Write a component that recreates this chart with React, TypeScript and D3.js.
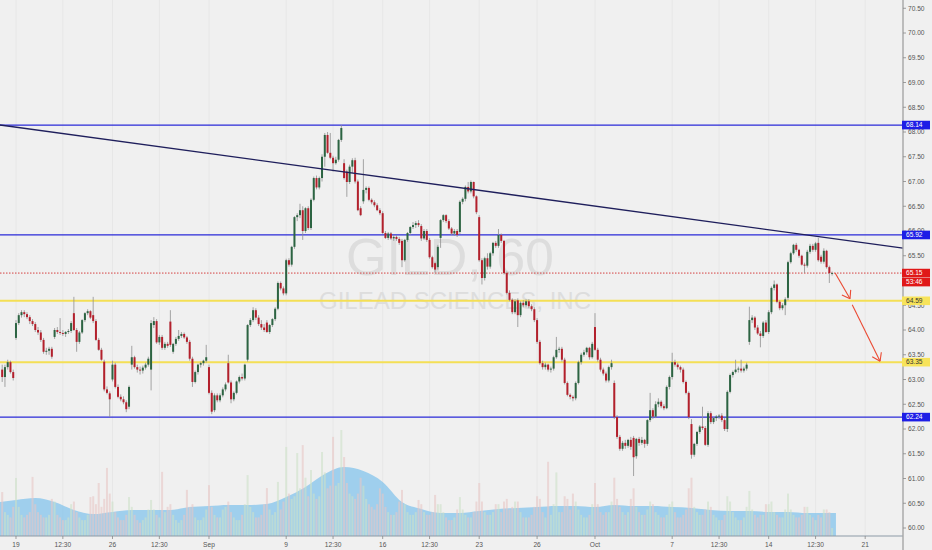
import React from 'react';
import * as d3 from 'd3';

// ---------- DATA ----------
// Hourly candles [open, high, low, close] — Aug 16 (5 bars), Aug 19 – Aug 30 (7 bars/day)
const ohlcAug: number[][] = [
  [63.2, 63.3, 62.95, 63.05], [63.05, 63.3, 62.85, 63.25], [63.25, 63.4, 63.2, 63.35], [63.35, 63.38, 63.12, 63.15], [63.15, 63.2, 62.98, 63.03],
  // Aug 19
  [63.84, 64.2, 63.8, 64.14], [64.14, 64.34, 64.1, 64.3], [64.3, 64.4, 64.25, 64.36], [64.36, 64.4, 64.26, 64.32], [64.32, 64.36, 64.22, 64.26], [64.26, 64.3, 64.12, 64.18], [64.18, 64.22, 64.08, 64.12],
  // Aug 20
  [64.12, 64.16, 63.96, 64.0], [64.0, 64.06, 63.9, 63.95], [63.95, 64.0, 63.76, 63.8], [63.8, 63.84, 63.52, 63.56], [63.56, 63.64, 63.5, 63.58], [63.58, 63.66, 63.5, 63.62], [63.62, 63.66, 63.42, 63.46],
  // Aug 21
  [63.86, 64.04, 63.82, 64.0], [64.0, 64.06, 63.92, 63.96], [63.96, 64.24, 63.9, 63.94], [63.94, 64.0, 63.88, 63.92], [63.92, 63.98, 63.86, 63.96], [63.96, 64.02, 63.92, 63.98], [63.98, 64.18, 63.94, 64.14],
  // Aug 22
  [64.34, 64.67, 63.98, 64.0], [64.0, 64.04, 63.56, 63.76], [63.76, 63.98, 63.72, 63.95], [63.95, 64.22, 63.92, 64.2], [64.2, 64.36, 64.16, 64.34], [64.34, 64.42, 64.3, 64.38], [64.38, 64.4, 64.22, 64.25],
  // Aug 23
  [64.3, 64.67, 64.14, 64.18], [64.18, 64.22, 63.78, 63.8], [63.8, 63.84, 63.58, 63.6], [63.6, 63.64, 63.38, 63.4], [63.36, 63.4, 62.76, 62.8], [62.8, 62.86, 62.7, 62.73], [62.72, 62.76, 62.24, 62.6],
  // Aug 26
  [63.0, 63.38, 62.96, 63.3], [63.3, 63.34, 62.82, 62.85], [62.85, 62.9, 62.62, 62.65], [62.65, 62.7, 62.56, 62.6], [62.6, 62.66, 62.5, 62.54], [62.54, 62.58, 62.34, 62.4], [62.45, 62.88, 62.4, 62.85],
  // Aug 27
  [63.3, 63.68, 63.2, 63.45], [63.45, 63.48, 63.22, 63.25], [63.25, 63.3, 63.14, 63.2], [63.2, 63.26, 63.1, 63.18], [63.18, 63.28, 63.12, 63.24], [63.24, 63.34, 63.2, 63.3], [63.3, 63.46, 63.26, 63.42],
  // Aug 28
  [63.2, 64.2, 62.78, 64.14], [64.1, 64.26, 64.04, 64.18], [64.18, 64.22, 63.72, 63.75], [63.75, 63.9, 63.7, 63.86], [63.86, 63.9, 63.6, 63.64], [63.64, 63.76, 63.6, 63.72], [63.72, 63.76, 63.64, 63.68],
  // Aug 29
  [64.17, 64.4, 63.66, 63.7], [63.56, 63.74, 63.52, 63.72], [63.72, 63.86, 63.68, 63.82], [63.82, 64.0, 63.78, 63.88], [63.88, 63.96, 63.84, 63.92], [63.92, 63.95, 63.82, 63.85], [63.85, 63.88, 63.72, 63.76],
  // Aug 30
  [63.76, 63.8, 63.38, 63.42], [63.42, 63.46, 62.85, 62.95], [62.95, 63.18, 62.92, 63.15], [63.15, 63.32, 63.1, 63.3], [63.3, 63.36, 63.24, 63.33], [63.33, 63.4, 63.28, 63.38], [63.38, 63.7, 63.34, 63.45],
];

// Sep 3 – Sep 30
const ohlcSep: number[][] = [
  // Sep 3
  [63.25, 63.3, 62.7, 62.73], [62.73, 62.78, 62.3, 62.35], [62.38, 62.72, 62.34, 62.68], [62.68, 62.72, 62.54, 62.58], [62.58, 62.72, 62.54, 62.68], [62.68, 62.84, 62.64, 62.8], [62.8, 62.94, 62.76, 62.9],
  // Sep 4
  [63.33, 63.5, 62.92, 62.94], [62.94, 62.98, 62.52, 62.6], [62.6, 62.76, 62.56, 62.73], [62.73, 62.98, 62.7, 62.96], [62.96, 63.08, 62.92, 63.05], [63.05, 63.12, 62.98, 63.02], [63.02, 63.32, 62.98, 63.3],
  // Sep 5
  [63.4, 64.12, 63.36, 64.1], [64.1, 64.24, 64.06, 64.2], [64.2, 64.46, 64.16, 64.4], [64.4, 64.44, 64.2, 64.25], [64.25, 64.3, 64.08, 64.12], [64.12, 64.2, 64.0, 64.05], [64.05, 64.12, 63.96, 64.0],
  // Sep 6
  [64.15, 64.2, 63.94, 63.96], [63.96, 64.12, 63.92, 64.1], [64.1, 64.24, 64.06, 64.22], [64.22, 64.46, 64.18, 64.43], [64.43, 64.98, 64.4, 64.95], [64.95, 64.98, 64.8, 64.84], [64.84, 64.88, 64.7, 64.74],
  // Sep 9
  [64.74, 65.44, 64.7, 65.41], [65.41, 65.45, 65.28, 65.32], [65.32, 65.7, 65.28, 65.68], [65.68, 66.3, 65.64, 66.28], [66.28, 66.36, 66.2, 66.32], [66.32, 66.55, 66.26, 66.42], [66.42, 66.5, 65.82, 66.0],
  // Sep 10
  [66.0, 66.48, 65.96, 66.46], [66.46, 66.5, 66.02, 66.06], [66.06, 66.66, 66.02, 66.63], [66.63, 67.1, 66.6, 67.07], [67.07, 67.12, 66.84, 66.88], [66.88, 67.1, 66.84, 67.07], [67.07, 67.55, 67.0, 67.5],
  // Sep 11
  [67.5, 67.98, 67.3, 67.94], [67.94, 68.0, 67.56, 67.58], [67.58, 67.98, 67.45, 67.48], [67.48, 67.52, 67.2, 67.37], [67.37, 67.5, 67.34, 67.44], [67.44, 67.86, 67.4, 67.84], [67.84, 68.14, 67.8, 68.08],
  // Sep 12
  [67.37, 67.45, 67.04, 67.07], [67.2, 67.24, 66.69, 66.99], [66.99, 67.34, 66.95, 67.3], [67.3, 67.47, 67.17, 67.43], [67.43, 67.48, 66.96, 67.0], [67.0, 67.04, 66.4, 66.42], [66.46, 66.5, 66.3, 66.32],
  // Sep 13
  [66.6, 67.45, 66.55, 66.83], [66.83, 66.9, 66.76, 66.87], [66.87, 66.9, 66.6, 66.63], [66.63, 66.66, 66.54, 66.58], [66.58, 66.62, 66.48, 66.52], [66.52, 66.56, 66.4, 66.42], [66.42, 66.46, 66.32, 66.36],
  // Sep 16
  [66.36, 66.4, 65.94, 65.96], [65.96, 66.0, 65.84, 65.86], [65.86, 65.98, 65.82, 65.95], [65.95, 65.98, 65.82, 65.85], [65.85, 65.92, 65.8, 65.88], [65.88, 65.92, 65.8, 65.84], [65.84, 65.88, 65.72, 65.76],
  // Sep 17
  [65.8, 65.84, 65.27, 65.41], [65.41, 65.84, 65.38, 65.82], [65.82, 65.98, 65.78, 65.96], [65.96, 66.1, 65.92, 66.08], [66.08, 66.18, 66.04, 66.12], [66.12, 66.2, 66.06, 66.16], [66.16, 66.22, 66.08, 66.12],
  // Sep 18
  [66.1, 66.14, 65.8, 65.85], [65.85, 66.04, 65.82, 66.0], [66.0, 66.04, 65.78, 65.82], [65.82, 65.86, 65.44, 65.47], [65.47, 65.5, 65.24, 65.27], [65.35, 65.38, 65.16, 65.22], [65.27, 65.72, 65.22, 65.68],
  // Sep 19
  [65.86, 66.24, 65.66, 66.22], [66.22, 66.34, 66.18, 66.32], [66.32, 66.34, 66.16, 66.2], [66.2, 66.24, 66.02, 66.05], [66.05, 66.08, 65.92, 65.95], [65.95, 66.04, 65.9, 66.0], [66.0, 66.04, 65.88, 65.92],
  // Sep 20
  [65.98, 66.62, 65.94, 66.59], [66.59, 66.68, 66.54, 66.65], [66.65, 66.92, 66.6, 66.89], [66.89, 66.99, 66.76, 66.8], [66.8, 67.02, 66.76, 66.99], [66.99, 67.0, 66.66, 66.7], [66.7, 66.72, 66.34, 66.38],
  // Sep 23
  [66.28, 66.32, 65.38, 65.41], [65.41, 65.45, 64.92, 65.05], [65.05, 65.48, 65.0, 65.45], [65.45, 65.55, 65.22, 65.28], [65.28, 65.58, 65.24, 65.55], [65.55, 65.78, 65.5, 65.76], [65.76, 65.8, 65.66, 65.7],
  // Sep 24
  [65.7, 66.04, 65.66, 65.92], [65.92, 65.95, 65.76, 65.8], [65.8, 65.82, 65.12, 65.15], [65.15, 65.18, 64.72, 64.75], [64.75, 64.8, 64.58, 64.61], [64.61, 64.64, 64.32, 64.36], [64.36, 64.62, 64.32, 64.58],
  // Sep 25
  [64.6, 64.64, 64.06, 64.3], [64.3, 64.58, 64.26, 64.55], [64.55, 64.6, 64.46, 64.5], [64.5, 64.62, 64.46, 64.58], [64.58, 64.62, 64.44, 64.48], [64.48, 64.52, 64.38, 64.42], [64.42, 64.46, 64.16, 64.2],
  // Sep 26
  [64.2, 64.24, 63.72, 63.76], [63.76, 63.8, 63.3, 63.33], [63.33, 63.38, 63.2, 63.25], [63.25, 63.34, 63.2, 63.3], [63.3, 63.32, 63.16, 63.2], [63.2, 63.26, 63.14, 63.22], [63.22, 63.48, 63.18, 63.45],
  // Sep 27
  [63.45, 63.86, 63.42, 63.6], [63.6, 63.66, 63.54, 63.62], [63.62, 63.66, 63.36, 63.4], [63.4, 63.44, 62.9, 62.93], [62.93, 62.96, 62.66, 62.69], [62.69, 62.72, 62.6, 62.65], [62.65, 62.68, 62.56, 62.62],
  // Sep 30
  [62.62, 62.96, 62.58, 62.93], [62.93, 63.38, 62.9, 63.35], [63.35, 63.54, 63.3, 63.5], [63.5, 63.6, 63.46, 63.55], [63.55, 63.66, 63.5, 63.64], [63.64, 63.66, 63.4, 63.45], [63.45, 63.76, 63.42, 63.72],
];

// Oct 1 – Oct 17 (last day partial)
const ohlcOct: number[][] = [
  // Oct 1
  [64.06, 64.34, 63.58, 63.6], [63.6, 63.64, 63.36, 63.4], [63.4, 63.44, 63.16, 63.2], [63.2, 63.24, 63.08, 63.12], [63.12, 63.16, 62.94, 62.98], [62.98, 63.28, 62.94, 63.25], [63.25, 63.4, 63.2, 63.33],
  // Oct 2
  [62.93, 62.98, 62.2, 62.24], [62.24, 62.28, 61.8, 61.84], [61.84, 61.88, 61.56, 61.6], [61.6, 61.76, 61.56, 61.72], [61.72, 61.78, 61.6, 61.66], [61.66, 61.8, 61.62, 61.78], [61.78, 61.84, 61.58, 61.64],
  // Oct 3
  [61.82, 61.86, 61.05, 61.43], [61.45, 61.82, 61.4, 61.8], [61.8, 61.84, 61.66, 61.72], [61.72, 61.84, 61.68, 61.78], [61.78, 61.8, 61.62, 61.7], [61.7, 62.2, 61.66, 62.18], [62.18, 62.73, 62.14, 62.38],
  // Oct 4
  [62.38, 62.42, 62.2, 62.25], [62.25, 62.56, 62.22, 62.5], [62.5, 62.62, 62.44, 62.55], [62.55, 62.58, 62.42, 62.46], [62.46, 62.5, 62.38, 62.42], [62.42, 62.88, 62.4, 62.85], [62.85, 63.08, 62.8, 63.05],
  // Oct 7
  [63.05, 63.54, 63.0, 63.35], [63.35, 63.4, 63.26, 63.3], [63.3, 63.34, 63.2, 63.25], [63.25, 63.28, 63.14, 63.2], [63.2, 63.24, 62.92, 62.95], [62.95, 62.98, 62.7, 62.73], [62.73, 62.76, 62.2, 62.24],
  // Oct 8
  [62.1, 62.2, 61.4, 61.48], [61.48, 61.72, 61.44, 61.7], [61.7, 61.96, 61.66, 61.94], [61.94, 62.08, 61.9, 62.05], [62.05, 62.45, 61.98, 62.02], [62.02, 62.06, 61.66, 61.68], [61.68, 62.36, 61.64, 62.32],
  // Oct 9
  [62.32, 62.36, 62.1, 62.14], [62.14, 62.24, 62.1, 62.22], [62.22, 62.28, 62.16, 62.25], [62.25, 62.3, 62.2, 62.27], [62.27, 62.32, 62.14, 62.18], [62.18, 62.22, 61.96, 62.0], [62.0, 62.78, 61.94, 62.75],
  // Oct 10
  [62.75, 63.12, 62.72, 63.09], [63.09, 63.18, 63.04, 63.15], [63.15, 63.4, 63.12, 63.2], [63.2, 63.26, 63.14, 63.22], [63.22, 63.4, 63.14, 63.18], [63.18, 63.26, 63.14, 63.22], [63.22, 63.34, 63.18, 63.3],
  // Oct 11
  [63.76, 64.47, 63.7, 64.2], [64.2, 64.3, 64.14, 64.25], [64.25, 64.28, 64.0, 64.05], [64.05, 64.1, 63.9, 63.93], [63.93, 63.98, 63.65, 63.88], [63.88, 64.18, 63.84, 64.15], [64.15, 64.2, 63.94, 63.96],
  // Oct 14
  [63.96, 64.4, 63.92, 64.36], [64.36, 64.88, 64.32, 64.85], [64.85, 65.0, 64.8, 64.92], [64.92, 64.94, 64.54, 64.57], [64.57, 64.6, 64.4, 64.44], [64.44, 64.54, 64.4, 64.5], [64.5, 64.66, 64.3, 64.62],
  // Oct 15
  [64.65, 65.4, 64.6, 65.37], [65.37, 65.58, 65.34, 65.55], [65.55, 65.74, 65.52, 65.72], [65.72, 65.76, 65.58, 65.62], [65.62, 65.64, 65.46, 65.5], [65.5, 65.52, 65.3, 65.32], [65.32, 65.36, 65.15, 65.3],
  // Oct 16
  [65.3, 65.62, 65.26, 65.58], [65.58, 65.74, 65.54, 65.7], [65.7, 65.74, 65.58, 65.62], [65.62, 65.78, 65.58, 65.75], [65.76, 65.86, 65.38, 65.41], [65.48, 65.52, 65.34, 65.38], [65.38, 65.65, 65.34, 65.6],
  // Oct 17
  [65.6, 65.62, 65.24, 65.27], [65.27, 65.3, 64.95, 65.15], [65.15, 65.18, 65.1, 65.15],
];

// Hourly volume (millions of shares)
const volumeAug: number[] = [
  1.66, 0.9, 0.8, 0.7, 1.1,
  2.19, 1.1, 0.8, 0.7, 0.8, 0.9, 2.23,
  1.2, 0.9, 0.8, 0.7, 0.7, 0.8, 1.4,
  1.3, 0.8, 0.7, 0.6, 0.6, 0.7, 1.2,
  1.3, 0.9, 0.7, 0.6, 0.6, 0.8, 1.47,
  1.5, 1.2, 2.0, 1.1, 1.4, 2.57, 1.6,
  1.3, 0.9, 0.7, 0.6, 0.6, 0.8, 1.47,
  1.1, 0.8, 0.6, 0.5, 0.6, 0.7, 1.0,
  1.36, 1.0, 0.8, 0.7, 2.42, 0.9, 1.1,
  1.2, 0.8, 0.6, 0.5, 0.6, 0.8, 1.74,
  1.1, 1.2, 0.7, 0.6, 0.6, 0.7, 1.0,
];
const volumeSep: number[] = [
  1.92, 1.1, 0.8, 0.7, 0.7, 1.0, 1.1,
  1.3, 0.9, 0.7, 0.6, 0.6, 0.8, 1.2,
  2.3, 1.1, 0.9, 0.7, 0.7, 0.8, 1.2,
  1.81, 1.0, 0.8, 0.9, 2.04, 1.0, 1.3,
  3.36, 1.6, 1.4, 1.5, 3.13, 1.8, 3.43,
  2.2, 1.5, 2.49, 1.6, 1.4, 1.5, 3.17,
  2.4, 1.8, 1.9, 3.74, 1.9, 2.0, 4.0,
  2.98, 2.0, 1.6, 1.5, 1.4, 1.6, 2.2,
  1.9, 1.4, 1.2, 1.1, 1.0, 1.2, 1.8,
  1.6, 1.1, 0.9, 0.8, 0.8, 0.9, 1.3,
  1.74, 1.2, 0.9, 0.8, 0.8, 0.9, 1.36,
  1.2, 0.9, 0.8, 0.8, 0.9, 1.55, 1.2,
  1.2, 0.9, 0.7, 0.6, 0.6, 0.7, 1.0,
  1.47, 1.0, 0.8, 0.7, 0.7, 0.9, 1.3,
  2.0, 1.3, 0.9, 0.8, 0.8, 0.9, 1.2,
  1.2, 0.9, 1.3, 1.4, 1.0, 1.1, 1.3,
  1.3, 0.9, 0.7, 0.7, 0.7, 0.8, 1.1,
  1.5, 1.4, 0.9, 0.7, 2.8, 0.8, 1.2,
  2.4, 0.9, 0.9, 1.5, 1.4, 1.0, 1.6,
  1.3, 1.0, 0.8, 0.7, 0.7, 0.8, 1.2,
];
const volumeOct: number[] = [
  2.0, 1.2, 0.9, 0.8, 0.9, 0.9, 1.3,
  2.2, 1.4, 1.1, 0.9, 0.8, 0.9, 1.4,
  1.8, 1.1, 0.9, 0.8, 0.8, 1.0, 1.3,
  1.2, 0.9, 0.8, 0.7, 0.7, 0.8, 1.2,
  1.3, 0.9, 0.7, 0.7, 0.8, 1.0, 1.8,
  2.2, 1.1, 0.9, 0.8, 0.8, 1.0, 1.3,
  1.1, 0.8, 0.7, 0.6, 0.6, 0.8, 1.5,
  1.3, 0.9, 0.7, 0.6, 0.6, 0.7, 1.1,
  1.7, 1.0, 0.8, 0.7, 0.8, 0.8, 1.2,
  1.2, 1.3, 0.9, 0.8, 0.7, 0.7, 1.0,
  1.6, 1.0, 0.8, 0.7, 0.7, 0.8, 1.1,
  1.1, 0.8, 0.7, 0.6, 0.8, 0.7, 1.0,
  1.0, 0.9, 0.3,
];

// Volume moving average (millions), Aug 16 then each session start Aug 19 .. Oct 17
const volumeMA: number[] = [
  1.28, 1.36, 1.43, 1.28, 0.98, 0.83, 0.91, 0.98, 0.98, 0.98, 1.09,
  1.13, 1.17, 1.17, 1.21, 1.47, 1.85, 2.34, 2.6, 2.45, 2.04,
  1.28, 1.02, 0.87, 0.87, 0.94, 1.02, 1.06, 1.09, 1.13, 1.13,
  1.09, 1.17, 1.13, 1.13, 1.09, 1.06, 0.98, 0.94, 0.94, 0.91,
  0.91, 0.87, 0.87,
];

// X-axis ticks (bar slot index, label)
const xTickSlots = [5, 22, 40, 57, 75, 103, 120, 138, 155, 173, 194, 215, 243, 260, 278, 295, 313];
const xTickLabels = ['19', '12:30', '26', '12:30', 'Sep', '9', '12:30', '16', '12:30', '23', '26', 'Oct', '7', '12:30', '14', '12:30', '21'];

// Horizontal levels
const blueLevels = [68.14, 65.92, 62.24];
const yellowLevels = [64.59, 63.35];
const lastPrice = 65.15;
const countdown = '53:46';

// Trend line anchors (slot, price)
const trendSlots = [0, 301];
const trendPrices = [68.135, 65.85];

// Projection arrows
const arrowFromSlots = [302.1, 308.3];
const arrowFromPrices = [65.15, 64.51];
const arrowToSlots = [307.5, 318.4];
const arrowToPrices = [64.63, 63.37];

const symbolText = 'GILD, 60';
const companyText = 'GILEAD SCIENCES, INC';

// ---------- CHART ----------
const W = 932;
const H = 550;
const AXIS_X = 903;
const BOTTOM_Y = 536;
const FONT = "'Liberation Sans', Arial, sans-serif";

export default function App() {
  const ohlc = [...ohlcAug, ...ohlcSep, ...ohlcOct];
  const volumes = [...volumeAug, ...volumeSep, ...volumeOct];

  const x = d3.scaleLinear().domain([0, 301]).range([2.2, 832.1]);
  const y = d3.scaleLinear().domain([60, 68]).range([528, 132]);
  const yv = d3.scaleLinear().domain([0, 4]).range([BOTTOM_Y, 430]);

  // axis ticks; a tick fully hidden behind the countdown tag is not drawn
  const countdownY = y(lastPrice) + 9;
  const priceTicks = d3.range(60, 70.51, 0.5).filter((p) => Math.abs(y(p) - countdownY) > 3);

  // MA area
  const maPts: [number, number][] = volumeMA.map((v, i) => [i === 0 ? -0.8 : 5 + (i - 1) * 7, v]);
  maPts.push([302.4, volumeMA[volumeMA.length - 1]]);
  const maArea = d3
    .area<[number, number]>()
    .x((d) => x(d[0]))
    .y0(BOTTOM_Y)
    .y1((d) => yv(d[1]))
    .curve(d3.curveMonotoneX)(maPts) as string;

  // trend line extended to edges
  const tx0 = x(trendSlots[0]);
  const ty0 = y(trendPrices[0]);
  const tx1 = x(trendSlots[1]);
  const ty1 = y(trendPrices[1]);
  const slope = (ty1 - ty0) / (tx1 - tx0);
  const trendLeftY = ty0 + (0 - tx0) * slope;
  const trendRightY = ty0 + (AXIS_X - tx0) * slope;

  const green = '#2c6442';
  const red = '#b3202c';
  const blue = '#2a2ad8';
  const yellow = '#f4df55';
  const arrowColor = '#ea4a33';

  const arrows = arrowFromSlots.map((s, i) => {
    const x1 = x(s);
    const y1 = y(arrowFromPrices[i]);
    const x2 = x(arrowToSlots[i]);
    const y2 = y(arrowToPrices[i]);
    const ang = Math.atan2(y2 - y1, x2 - x1);
    const L = 9;
    const a1 = ang + Math.PI - 0.6;
    const a2 = ang + Math.PI + 0.6;
    return {
      x1, y1, x2, y2,
      h1: [x2 + L * Math.cos(a1), y2 + L * Math.sin(a1)],
      h2: [x2 + L * Math.cos(a2), y2 + L * Math.sin(a2)],
    };
  });

  const labelBox = (price: number, fill: string, textFill: string, text: string, key: string, dy = 0) => {
    const cy = y(price) + dy;
    return (
      <g key={key}>
        <rect x={AXIS_X - 1} y={cy - 4.3} width={28} height={8.6} fill={fill} />
        <text x={AXIS_X + 3} y={cy + 2.3} fontSize={6.6} fill={textFill} fontFamily={FONT}>
          {text}
        </text>
      </g>
    );
  };

  return (
    <svg
      width={W}
      height={H}
      style={{ position: 'fixed', left: 0, top: 0, background: '#f0f0f0' }}
    >
      <rect x={0} y={0} width={W} height={H} fill="#f0f0f0" />

      {/* vertical grid */}
      {xTickSlots.map((s, i) => (
        <line key={'g' + i} x1={x(s)} x2={x(s)} y1={0} y2={BOTTOM_Y} stroke="#e7e7e7" strokeWidth={1} />
      ))}

      {/* watermark */}
      <text x={450} y={275} textAnchor="middle" fontSize={52} fill="#dddddd" fontFamily={FONT}>
        {symbolText}
      </text>
      <text x={455} y={309} textAnchor="middle" fontSize={24} fill="#dddddd" fontFamily={FONT}>
        {companyText}
      </text>

      {/* volume MA area */}
      <path d={maArea} fill="rgba(128,194,236,0.72)" />

      {/* volume bars */}
      {volumes.map((v, i) => {
        const up = ohlc[i][3] >= ohlc[i][0];
        return (
          <rect
            key={'v' + i}
            x={x(i) - 1}
            y={yv(v)}
            width={2}
            height={BOTTOM_Y - yv(v)}
            fill={up ? 'rgba(205,225,200,0.6)' : 'rgba(232,198,196,0.6)'}
          />
        );
      })}

      {/* horizontal levels */}
      {blueLevels.map((p, i) => (
        <line key={'b' + i} x1={0} x2={AXIS_X} y1={y(p)} y2={y(p)} stroke={blue} strokeWidth={1.3} />
      ))}
      {yellowLevels.map((p, i) => (
        <line key={'yl' + i} x1={0} x2={AXIS_X} y1={y(p)} y2={y(p)} stroke={yellow} strokeWidth={2} />
      ))}
      <line x1={0} x2={AXIS_X} y1={y(lastPrice)} y2={y(lastPrice)} stroke="#d44040" strokeWidth={1} strokeDasharray="1.5,1.5" />

      {/* candles */}
      {ohlc.map((d, i) => {
        const [o, h, l, c] = d;
        const up = c >= o;
        const cx = x(i);
        const top = y(Math.max(o, c));
        const bh = Math.max(0.9, Math.abs(y(o) - y(c)));
        return (
          <g key={'c' + i}>
            <line x1={cx} x2={cx} y1={y(h)} y2={y(l)} stroke="#8f8f8f" strokeWidth={0.8} />
            <rect x={cx - 1} y={top} width={2} height={bh} fill={up ? green : red} />
          </g>
        );
      })}

      {/* trend line */}
      <line x1={0} y1={trendLeftY} x2={AXIS_X} y2={trendRightY} stroke="#1f1f5c" strokeWidth={1.3} />

      {/* arrows */}
      {arrows.map((a, i) => (
        <g key={'a' + i} stroke={arrowColor} strokeWidth={1.1} fill="none">
          <line x1={a.x1} y1={a.y1} x2={a.x2} y2={a.y2} />
          <line x1={a.x2} y1={a.y2} x2={a.h1[0]} y2={a.h1[1]} />
          <line x1={a.x2} y1={a.y2} x2={a.h2[0]} y2={a.h2[1]} />
        </g>
      ))}

      {/* bottom axis */}
      <line x1={0} x2={AXIS_X} y1={BOTTOM_Y} y2={BOTTOM_Y} stroke="#8c9aa6" strokeWidth={1} />
      {xTickSlots.map((s, i) => (
        <g key={'xt' + i}>
          <line x1={x(s)} x2={x(s)} y1={BOTTOM_Y} y2={BOTTOM_Y + 3} stroke="#888" strokeWidth={0.8} />
          <text x={x(s)} y={546.5} textAnchor="middle" fontSize={6.6} fill="#555" fontFamily={FONT}>
            {xTickLabels[i]}
          </text>
        </g>
      ))}

      {/* right axis */}
      <line x1={AXIS_X} x2={AXIS_X} y1={0} y2={H} stroke="#a5a5a5" strokeWidth={1.4} />
      {priceTicks.map((p, i) => (
        <g key={'yt' + i}>
          <line x1={AXIS_X} x2={AXIS_X + 3} y1={y(p)} y2={y(p)} stroke="#888" strokeWidth={0.8} />
          <text x={AXIS_X + 5} y={y(p) + 2.3} fontSize={6.6} fill="#555" fontFamily={FONT}>
            {p.toFixed(2)}
          </text>
        </g>
      ))}

      {/* price labels */}
      {blueLevels.map((p, i) => labelBox(p, '#1e1ee6', '#ffffff', p.toFixed(2), 'bl' + i))}
      {yellowLevels.map((p, i) => labelBox(p, '#f7e35a', '#333333', p.toFixed(2), 'yl' + i))}
      {labelBox(lastPrice, '#e01818', '#ffffff', lastPrice.toFixed(2), 'lp')}
      {labelBox(lastPrice, '#e01818', '#ffffff', countdown, 'cd', 9)}
    </svg>
  );
}
